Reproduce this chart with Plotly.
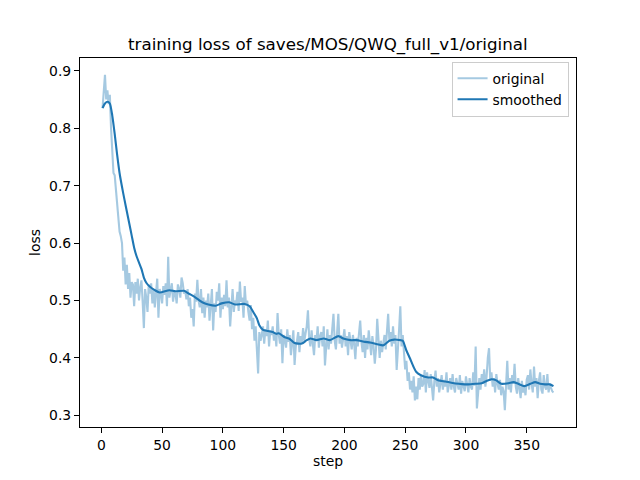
import plotly.graph_objects as go

# ---- data ----
original_loss = [
    0.835, 0.872, 0.893, 0.850, 0.866, 0.842, 0.858, 0.800, 0.745, 0.722,
    0.718, 0.690, 0.668, 0.640, 0.620, 0.612, 0.600, 0.552, 0.575, 0.528,
    0.562, 0.520, 0.548, 0.505, 0.532, 0.528, 0.490, 0.532, 0.512, 0.538,
    0.500, 0.522, 0.535, 0.498, 0.452, 0.520, 0.505, 0.480, 0.528, 0.512,
    0.530, 0.495, 0.520, 0.488, 0.515, 0.538, 0.470, 0.520, 0.512, 0.495,
    0.525, 0.510, 0.530, 0.490, 0.576, 0.505, 0.518, 0.530, 0.498, 0.515,
    0.512, 0.495, 0.528, 0.520, 0.505, 0.540, 0.530, 0.512, 0.518, 0.502,
    0.520, 0.490, 0.505, 0.470, 0.485, 0.455, 0.512, 0.498, 0.536, 0.500,
    0.488, 0.520, 0.478, 0.505, 0.470, 0.500, 0.488, 0.512, 0.465, 0.498,
    0.520, 0.448, 0.495, 0.480, 0.515, 0.500, 0.530, 0.470, 0.505, 0.485,
    0.510, 0.490, 0.535, 0.488, 0.505, 0.455, 0.498, 0.520, 0.480, 0.500,
    0.495, 0.515, 0.482, 0.533, 0.498, 0.505, 0.470, 0.525, 0.492, 0.500,
    0.480, 0.465, 0.492, 0.450, 0.470, 0.430, 0.455, 0.420, 0.373, 0.445,
    0.430, 0.440, 0.455, 0.425, 0.450, 0.438, 0.465, 0.420, 0.448, 0.440,
    0.455, 0.430, 0.445, 0.420, 0.478, 0.440, 0.425, 0.450, 0.391, 0.440,
    0.432, 0.418, 0.450, 0.428, 0.440, 0.405, 0.435, 0.448, 0.388, 0.420,
    0.430, 0.445, 0.410, 0.438, 0.425, 0.452, 0.430, 0.440, 0.455, 0.483,
    0.435, 0.420, 0.448, 0.425, 0.405, 0.440, 0.430, 0.455, 0.418, 0.438,
    0.445, 0.420, 0.455, 0.387, 0.430, 0.450, 0.415, 0.440, 0.425, 0.460,
    0.477, 0.430, 0.415, 0.445, 0.477, 0.425, 0.440, 0.418, 0.435, 0.450,
    0.420, 0.438, 0.405, 0.445, 0.430, 0.415, 0.440, 0.425, 0.398, 0.435,
    0.420, 0.445, 0.465, 0.428, 0.410, 0.440, 0.400, 0.435, 0.415, 0.448,
    0.425, 0.405, 0.438, 0.420, 0.390, 0.415, 0.468, 0.420, 0.400, 0.430,
    0.410, 0.425, 0.440, 0.415, 0.450, 0.477, 0.430, 0.445, 0.420, 0.455,
    0.425, 0.440, 0.379, 0.430, 0.450, 0.490, 0.420, 0.440, 0.400, 0.380,
    0.395, 0.360, 0.375, 0.345, 0.360, 0.340, 0.368, 0.326, 0.350, 0.328,
    0.365, 0.345, 0.370, 0.350, 0.355, 0.379, 0.340, 0.375, 0.360, 0.348,
    0.372, 0.345, 0.326, 0.360, 0.378, 0.350, 0.365, 0.340, 0.358, 0.370,
    0.345, 0.362, 0.350, 0.375, 0.340, 0.355, 0.365, 0.345, 0.372, 0.350,
    0.340, 0.365, 0.355, 0.345, 0.370, 0.338, 0.360, 0.350, 0.342, 0.368,
    0.355, 0.340, 0.365, 0.350, 0.345, 0.375, 0.352, 0.420, 0.312, 0.350,
    0.365, 0.345, 0.372, 0.355, 0.380, 0.350, 0.368, 0.400, 0.417, 0.360,
    0.375, 0.350, 0.365, 0.340, 0.372, 0.355, 0.345, 0.362, 0.335, 0.350,
    0.342, 0.309, 0.360, 0.395, 0.345, 0.365, 0.340, 0.370, 0.355, 0.390,
    0.350, 0.338, 0.365, 0.345, 0.330, 0.360, 0.340, 0.350, 0.335, 0.362,
    0.370, 0.345, 0.380, 0.355, 0.340, 0.385, 0.350, 0.365, 0.330, 0.360,
    0.375, 0.345, 0.338, 0.370, 0.350, 0.345, 0.372, 0.340, 0.355, 0.348,
    0.342, 0.340,
]
steps = list(range(1, len(original_loss) + 1))

smoothed_steps = [
    1, 3, 5, 7, 9, 11, 13, 15, 17, 19, 21, 23, 25, 27, 29, 31, 33, 35, 37, 40,
    44, 48, 56, 61, 68, 72, 77, 83, 88, 94, 99, 105, 110, 118, 122, 125, 128,
    130, 133, 137, 141, 144, 146, 151, 155, 159, 165, 169, 172, 177, 183, 188,
    195, 199, 205, 210, 217, 221, 227, 232, 237, 241, 246, 248, 251, 254, 257,
    259, 263, 269, 273, 277, 283, 288, 294, 299, 302, 308, 313, 317, 321, 325,
    329, 335, 339, 343, 348, 353, 357, 361, 365, 369, 372,
]
smoothed_loss = [
    0.835, 0.843, 0.846, 0.843, 0.822, 0.790, 0.754, 0.722, 0.698, 0.676,
    0.655, 0.634, 0.613, 0.592, 0.577, 0.566, 0.555, 0.540, 0.531, 0.524,
    0.518, 0.514, 0.518, 0.516, 0.517, 0.512, 0.506, 0.497, 0.493, 0.491,
    0.495, 0.497, 0.493, 0.494, 0.490, 0.480, 0.469, 0.457, 0.449, 0.447,
    0.445, 0.442, 0.443, 0.436, 0.433, 0.426, 0.425, 0.431, 0.434, 0.431,
    0.434, 0.431, 0.438, 0.434, 0.431, 0.431, 0.428, 0.427, 0.424, 0.422,
    0.430, 0.432, 0.431, 0.430, 0.413, 0.399, 0.384, 0.376, 0.370, 0.366,
    0.366, 0.361, 0.359, 0.357, 0.355, 0.354, 0.354, 0.355, 0.356, 0.360,
    0.363, 0.361, 0.355, 0.356, 0.358, 0.355, 0.351, 0.355, 0.358, 0.355,
    0.354, 0.354, 0.351,
]

x_ticks = [0, 50, 100, 150, 200, 250, 300, 350]
y_ticks = [0.3, 0.4, 0.5, 0.6, 0.7, 0.8, 0.9]

# matplotlib-like autoscale with 5% margins
xmin, xmax = min(steps), max(steps)
ymin, ymax = min(original_loss + smoothed_loss), max(original_loss + smoothed_loss)
xm = 0.05 * (xmax - xmin)
ym = 0.05 * (ymax - ymin)

FONT = "DejaVu Sans"
BLUE = "#1f77b4"

fig = go.Figure()
fig.add_trace(go.Scatter(
    x=steps, y=original_loss, mode="lines", name="original",
    line=dict(color="rgba(31,119,180,0.4)", width=2.1),
))
fig.add_trace(go.Scatter(
    x=smoothed_steps, y=smoothed_loss, mode="lines", name="smoothed",
    line=dict(color=BLUE, width=2.1, shape="spline", smoothing=0.6),
))

axis_common = dict(
    showline=True, linecolor="black", linewidth=1.1, mirror=True,
    ticks="outside", ticklen=5, tickwidth=1.1, tickcolor="black",
    showgrid=False, zeroline=False,
    tickfont=dict(family=FONT, size=13.9, color="black"),
)

# the page body has an 8px margin, so the figure is 8px smaller and shifted
fig.update_layout(
    width=632, height=472,
    paper_bgcolor="white", plot_bgcolor="white",
    margin=dict(l=72, r=64, t=50, b=53),
    font=dict(family=FONT, color="black"),
    xaxis=dict(range=[xmin - xm, xmax + xm], tickvals=x_ticks,
               title=dict(text="step", font=dict(family=FONT, size=13.9), standoff=4),
               **axis_common),
    yaxis=dict(range=[ymin - ym, ymax + ym], tickvals=y_ticks, tickformat=".1f",
               title=dict(text="loss", font=dict(family=FONT, size=13.9), standoff=5),
               **axis_common),
    legend=dict(
        x=0.985, y=0.99, xanchor="right", yanchor="top",
        bgcolor="rgba(255,255,255,0.8)", bordercolor="#cccccc", borderwidth=1,
        font=dict(family=FONT, size=13.9, color="black"),
        tracegroupgap=0, itemwidth=30,
    ),
    showlegend=True,
    annotations=[dict(
        text="training loss of saves/MOS/QWQ_full_v1/original",
        xref="paper", yref="paper", x=0.5, y=1, xanchor="center", yanchor="bottom",
        yshift=1, showarrow=False, font=dict(family=FONT, size=16.7, color="black"),
    )],
)

fig.write_html("out.html")
